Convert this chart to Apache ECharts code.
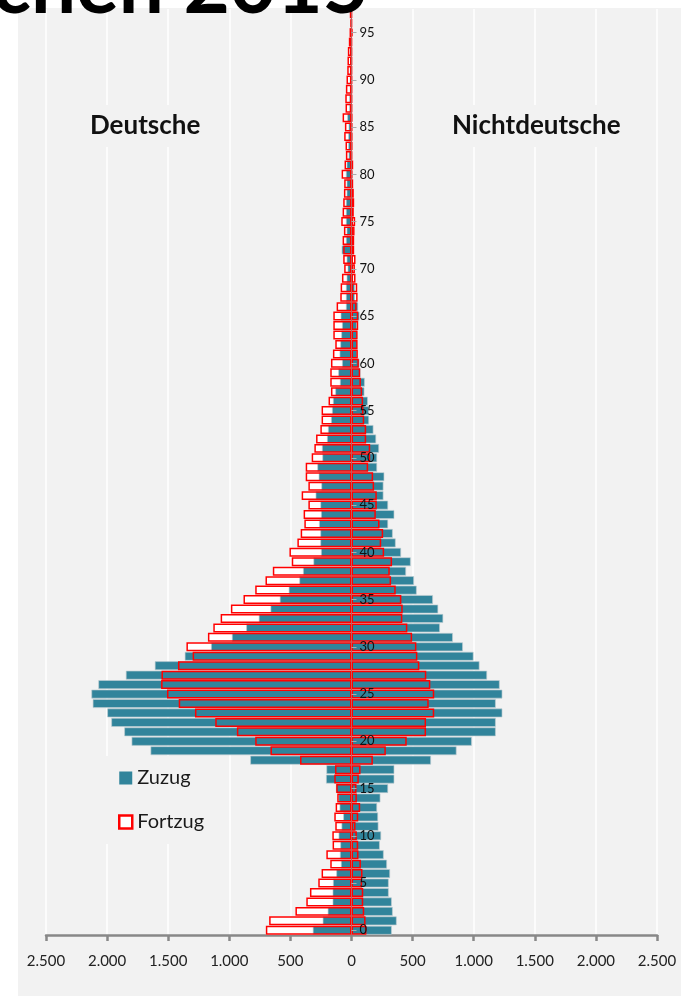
<!DOCTYPE html>
<html>
<head>
<meta charset="utf-8">
<script src="https://cdn.jsdelivr.net/npm/echarts@6/dist/echarts.min.js"></script>
<style>
  html, body { margin: 0; padding: 0; background: #fff; }
  #chart { width: 681px; height: 996px; }
</style>
</head>
<body>
<div id="chart"></div>
<script>
// ages 0..97
const ages = [];
for (let a = 0; a <= 97; a++) ages.push(String(a));

// Deutsche (left side)
const zuzugDeutsche = [
  317, 236, 195, 155, 155, 152, 125, 87, 95, 92,
  106, 82, 68, 98, 108, 128, 209, 206, 829, 1645,
  1800, 1860, 1966, 1999, 2118, 2129, 2072, 1847, 1610, 1365,
  1150, 979, 862, 759, 663, 587, 514, 427, 397, 312,
  250, 255, 255, 266, 250, 255, 294, 247, 269, 280,
  239, 242, 201, 193, 168, 160, 152, 133, 95, 109,
  78, 98, 92, 84, 78, 89, 46, 46, 46, 40,
  32, 40, 81, 46, 40, 46, 46, 46, 40, 40,
  46, 40, 24, 27, 27, 24, 35, 19, 19, 14,
  14, 14, 11, 8, 5, 5, 3, 2
];
const fortzugDeutsche = [
  701, 674, 459, 370, 340, 272, 245, 174, 206, 155,
  157, 133, 141, 130, 117, 125, 141, 135, 421, 663,
  788, 938, 1115, 1281, 1414, 1510, 1558, 1555, 1420, 1300,
  1351, 1175, 1131, 1071, 987, 884, 788, 704, 644, 489,
  508, 443, 416, 386, 392, 353, 408, 353, 375, 375,
  326, 304, 290, 255, 245, 245, 188, 168, 174, 174,
  168, 152, 133, 149, 149, 149, 122, 92, 89, 78,
  60, 68, 68, 73, 62, 84, 73, 68, 62, 60,
  81, 57, 46, 49, 60, 54, 73, 49, 51, 46,
  41, 35, 33, 30, 22, 16, 8, 14
];

// Nichtdeutsche (right side)
const zuzugNichtdeutsche = [
  330, 370, 338, 330, 305, 305, 316, 291, 264, 232,
  243, 221, 218, 210, 237, 300, 351, 351, 651, 860,
  985, 1181, 1181, 1235, 1181, 1235, 1213, 1110, 1048, 999,
  912, 830, 724, 751, 710, 667, 534, 512, 447, 485,
  406, 362, 338, 300, 351, 300, 262, 262, 269, 210,
  210, 226, 202, 180, 144, 142, 134, 106, 109, 74,
  66, 47, 47, 47, 44, 66, 55, 28, 28, 15,
  15, 10, 15, 15, 10, 10, 10, 10, 8, 8,
  5, 5, 3, 3, 3, 3, 3, 2, 2, 2,
  2, 1, 1, 1, 0, 0, 0, 0
];
const fortzugNichtdeutsche = [
  122, 115, 104, 96, 96, 87, 90, 77, 57, 55,
  44, 33, 55, 71, 44, 41, 60, 74, 175, 281,
  452, 610, 610, 677, 632, 677, 645, 612, 555, 539,
  531, 496, 457, 416, 419, 408, 362, 324, 313, 332,
  267, 243, 259, 229, 199, 207, 207, 185, 177, 136,
  153, 153, 120, 120, 104, 98, 95, 87, 77, 71,
  60, 52, 50, 50, 55, 55, 42, 50, 47, 33,
  28, 33, 22, 22, 25, 30, 19, 22, 19, 14,
  5, 14, 3, 5, 5, 5, 5, 3, 3, 3,
  3, 2, 2, 2, 2, 8, 2, 2
];

const xTicks = [-2500, -2000, -1500, -1000, -500, 0, 500, 1000, 1500, 2000, 2500];

const TEAL = '#31849b';
const RED = '#ff0000';
const FONT = 'Lato, "Open Sans", sans-serif';

// grid edges in px; the age axis sits on x = 0
const GRID_LEFT = 46;
const GRID_RIGHT = 24;
const ZERO_X = GRID_LEFT + (681 - GRID_LEFT - GRID_RIGHT) / 2;

const neg = arr => arr.map(v => -v);
const fmt = v => String(Math.abs(v)).replace(/\B(?=(\d{3})+(?!\d))/g, '.');

const fillStyle = { color: '#ffffff' };
const zuzugStyle = { color: TEAL, borderColor: 'rgba(190,205,210,0.8)', borderWidth: 0.8 };
const lineStyle = { color: 'rgba(0,0,0,0)', borderColor: RED, borderWidth: 1.5 };

function bar(name, data, itemStyle) {
  return {
    type: 'bar',
    name,
    data,
    itemStyle,
    barGap: '-100%',
    barCategoryGap: '5%',
    silent: true
  };
}

const option = {
  animation: false,
  backgroundColor: '#ffffff',
  graphic: [
    {
      type: 'rect',
      z: -10,
      silent: true,
      shape: { x: 18, y: 8, width: 681 - 18, height: 996 - 8 },
      style: { fill: '#f2f2f2' }
    },
    {
      type: 'text',
      z: 100,
      left: 145 - 80,
      top: 105,
      style: {
        text: 'Deutsche',
        font: 'bold 26px ' + FONT,
        fill: '#111',
        backgroundColor: '#f2f2f2',
        padding: [8, 25]
      }
    },
    {
      type: 'text',
      z: 100,
      left: 427,
      top: 105,
      style: {
        text: 'Nichtdeutsche',
        font: 'bold 26px ' + FONT,
        fill: '#111',
        backgroundColor: '#f2f2f2',
        padding: [8, 25]
      }
    },
    {
      type: 'text',
      z: 100,
      style: {
        text: 'chen 2015',
        x: 369,
        y: -13,
        align: 'right',
        verticalAlign: 'middle',
        font: 'bold 80px ' + FONT,
        fill: '#000'
      }
    }
  ],
  legend: {
    orient: 'vertical',
    left: 100,
    top: 756,
    padding: [12, 10, 12, 18],
    backgroundColor: '#f2f2f2',
    itemWidth: 13,
    itemHeight: 13,
    itemGap: 24,
    selectedMode: false,
    textStyle: { fontSize: 20, color: '#1a1a1a', fontFamily: FONT },
    data: [
      { name: 'Zuzug', icon: 'rect', itemStyle: { color: TEAL, borderWidth: 0 } },
      { name: 'Fortzug', icon: 'rect', itemStyle: { color: '#fff', borderColor: RED, borderWidth: 2.5 } }
    ]
  },
  grid: { left: GRID_LEFT, right: GRID_RIGHT, top: 9, bottom: 61, containLabel: false },
  xAxis: {
    type: 'value',
    min: -2500,
    max: 2500,
    interval: 500,
    axisLine: { show: true, lineStyle: { color: '#888', width: 2.5 } },
    axisTick: { show: true, length: 6, lineStyle: { color: '#888', width: 2.5 } },
    axisLabel: {
      formatter: fmt,
      margin: 19,
      fontSize: 15,
      color: '#222',
      fontFamily: FONT,
      customValues: xTicks
    },
    splitLine: { show: true, lineStyle: { color: '#ffffff', width: 1.5 } }
  },
  yAxis: {
    type: 'category',
    data: ages,
    z: 10,
    position: 'left',
    offset: GRID_LEFT - ZERO_X,
    axisLine: { show: true, onZero: false, lineStyle: { color: '#b86060', width: 1 } },
    axisTick: { show: true, inside: true, length: 5, alignWithLabel: true, interval: 4, lineStyle: { color: '#aaa' } },
    axisLabel: { inside: true, interval: 4, margin: 8, fontSize: 13, color: '#111', fontFamily: FONT },
    splitLine: { show: false }
  },
  series: [
    bar('Fortzug', neg(fortzugDeutsche), fillStyle),
    bar('Fortzug', fortzugNichtdeutsche, fillStyle),
    bar('Zuzug', neg(zuzugDeutsche), zuzugStyle),
    bar('Zuzug', zuzugNichtdeutsche, zuzugStyle),
    bar('Fortzug', neg(fortzugDeutsche), lineStyle),
    bar('Fortzug', fortzugNichtdeutsche, lineStyle)
  ]
};

const chart = echarts.init(document.getElementById('chart'), null, { renderer: 'canvas' });
chart.setOption(option);
</script>
</body>
</html>
